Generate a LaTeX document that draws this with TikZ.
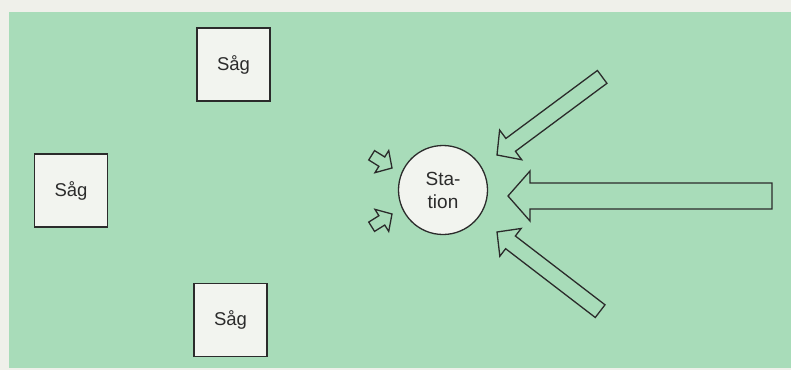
\documentclass[tikz,border=0pt]{standalone}
\usepackage{fontspec}
\setmainfont{Liberation Sans}
\definecolor{paper}{HTML}{EFF0EA}
\definecolor{bggreen}{HTML}{A8DCB9}
\definecolor{boxfill}{HTML}{F2F4EF}
\definecolor{ink}{HTML}{2B2B2B}
\newcommand{\blkarrow}[4]{(0,0) -- (#2,-#3) -- (#2,-#4) -- (#1,-#4) -- (#1,#4) -- (#2,#4) -- (#2,#3) -- cycle}
\begin{document}
\begin{tikzpicture}[x=1pt,y=-1pt,line join=miter,
  sawbox/.style={draw=ink,line width=1.4pt,fill=boxfill,minimum width=73pt,minimum height=73pt,inner sep=0pt,font=\fontsize{18.5}{22}\selectfont,text=ink},
  stationnode/.style={circle,draw=ink,line width=1.3pt,fill=boxfill,minimum size=89pt,inner sep=0pt,align=center,font=\fontsize{19}{23}\selectfont,text=ink},
  blockarrow/.style={draw=ink,line width=1.3pt,fill=none}]
\useasboundingbox (0,0) rectangle (791,370);
\fill[paper] (0,0) rectangle (791,370);
\fill[bggreen] (9,12) rectangle (791,368);
\node[sawbox] (saw1) at (233.5,64.5) {Såg};
\node[sawbox] (saw2) at (71,190.5) {Såg};
\node[sawbox] (saw3) at (230.5,320) {Såg};
\node[stationnode] (station) at (443,190) {Sta-\\tion};
\draw[blockarrow,shift={(497,155)},rotate=36.6] \blkarrow{131}{17}{18.5}{8};
\draw[blockarrow,shift={(508,196)}] \blkarrow{264}{22}{25}{13};
\draw[blockarrow,shift={(497,232)},rotate=-37.5] \blkarrow{130}{17}{17.5}{8};
\draw[blockarrow,shift={(392,168)},rotate=148] \blkarrow{24}{12}{13}{5.5};
\draw[blockarrow,shift={(392,214)},rotate=-148] \blkarrow{24}{12}{13}{5.5};
\end{tikzpicture}
\end{document}
